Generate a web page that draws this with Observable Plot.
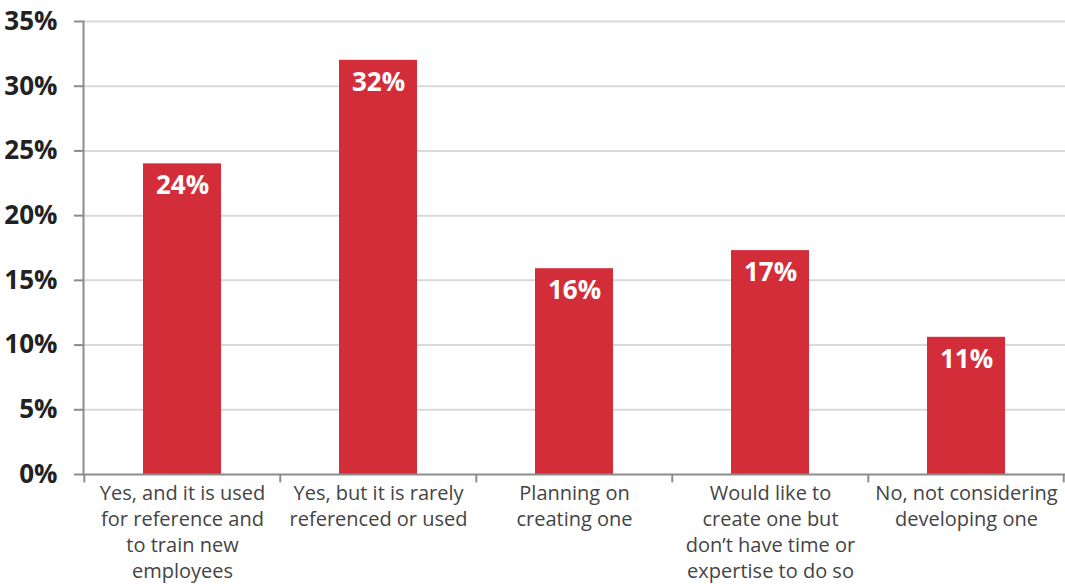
<!DOCTYPE html>
<html>
<head>
<meta charset="utf-8">
<script src="https://cdn.jsdelivr.net/npm/d3@7"></script>
<script src="https://cdn.jsdelivr.net/npm/@observablehq/plot@0.6"></script>
<style>
  html, body { margin: 0; padding: 0; background: #fff; }
  #chart svg { display: block; font-family: "Open Sans", sans-serif; }
</style>
</head>
<body>
<div id="chart"></div>
<script>
const categories = [
  "Yes, and it is used\nfor reference and\nto train new\nemployees",
  "Yes, but it is rarely\nreferenced or used",
  "Planning on\ncreating one",
  "Would like to\ncreate one but\ndon\u2019t have time or\nexpertise to do so",
  "No, not considering\ndeveloping one"
];
const values = [24.0, 32.0, 15.9, 17.3, 10.6];
const yTicks = [0, 5, 10, 15, 20, 25, 30, 35];

const data = categories.map((c, i) => ({category: c, value: values[i]}));

const W = 1065, H = 584;
const mL = 83, mR = 0, mT = 21, mB = 110;
const step = (W - mL - mR) / categories.length;
const axisColor = "#8c8c8c";

const chart = Plot.plot({
  width: W,
  height: H,
  marginLeft: mL,
  marginRight: mR,
  marginTop: mT,
  marginBottom: mB,
  style: {fontFamily: "'Open Sans', sans-serif", background: "#fff"},
  x: {domain: categories, paddingInner: 0.6, paddingOuter: 0.3},
  y: {domain: [0, 35]},
  marks: [
    Plot.gridY(yTicks.filter(t => t > 0), {stroke: "#d9d9d9", strokeWidth: 2, strokeOpacity: 1}),
    Plot.barY(data, {x: "category", y: "value", fill: "#d42d3a"}),
    Plot.text(data, {
      x: "category", y: "value", text: d => Math.round(d.value) + "%",
      dy: 22, fill: "#fff", fontWeight: "bold", fontSize: 26
    }),
    Plot.ruleY([0], {stroke: axisColor, strokeWidth: 2}),
    Plot.frame({anchor: "left", stroke: axisColor, strokeWidth: 2}),
    Plot.ruleX(categories, {x: d => d, dx: -step / 2, y1: 0, y2: -0.65, stroke: axisColor, strokeWidth: 2}),
    Plot.ruleX(categories.slice(-1), {x: d => d, dx: step / 2 - 1, y1: 0, y2: -0.65, stroke: axisColor, strokeWidth: 2}),
    Plot.axisY({
      ticks: yTicks, tickSize: 9, tickPadding: 17, tickFormat: d => d + "%",
      stroke: axisColor, strokeWidth: 2, fontSize: 26, fontWeight: "bold",
      fill: "#222", label: null
    }),
    Plot.axisX({
      tickSize: 0, tickPadding: 7, fontSize: 20, lineHeight: 1.3,
      fill: "#444", label: null
    })
  ]
});
document.getElementById("chart").appendChild(chart);
</script>
</body>
</html>
